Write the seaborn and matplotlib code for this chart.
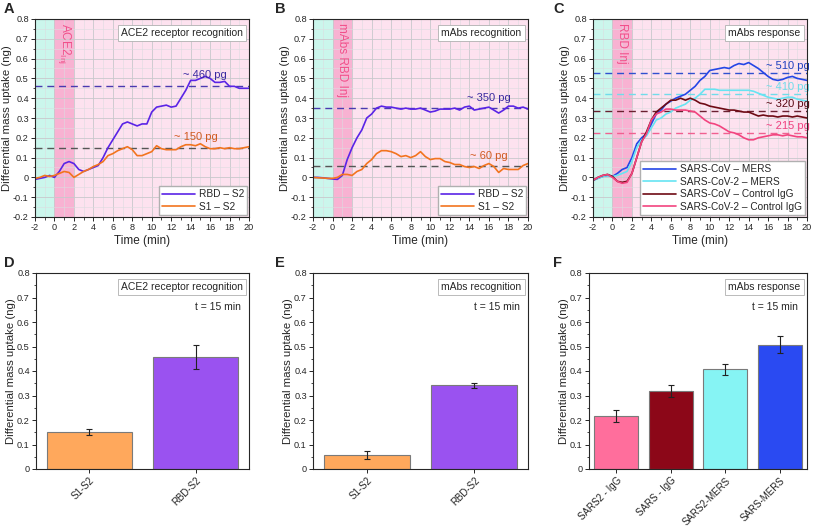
import numpy as np
import pandas as pd
import matplotlib.pyplot as plt
import seaborn as sns
from matplotlib.ticker import MultipleLocator

# time axis (min), sampled every 0.5 min
time = [-2, -1.5, -1, -0.5, 0, 0.5, 1, 1.5, 2, 2.5, 3, 3.5, 4, 4.5, 5, 5.5, 6, 6.5, 7, 7.5,
        8, 8.5, 9, 9.5, 10, 10.5, 11, 11.5, 12, 12.5, 13, 13.5, 14, 14.5, 15, 15.5, 16, 16.5,
        17, 17.5, 18, 18.5, 19, 19.5, 20]

# panel A
a_rbd = [-0.01, -0.005, 0.0, 0.01, 0.0, 0.03, 0.07, 0.08, 0.07, 0.04, 0.03, 0.04, 0.05, 0.06,
         0.1, 0.15, 0.19, 0.23, 0.27, 0.28, 0.27, 0.26, 0.27, 0.27, 0.33, 0.355, 0.36, 0.365,
         0.355, 0.36, 0.4, 0.44, 0.49, 0.49, 0.5, 0.51, 0.5, 0.48, 0.48, 0.485, 0.46, 0.46,
         0.45, 0.45, 0.45]
a_s1 = [-0.005, 0.0, 0.01, 0.005, 0.01, 0.02, 0.03, 0.025, 0.0, 0.015, 0.03, 0.04, 0.055, 0.065,
        0.08, 0.11, 0.12, 0.135, 0.145, 0.155, 0.14, 0.11, 0.11, 0.12, 0.13, 0.16, 0.145, 0.14,
        0.14, 0.14, 0.155, 0.165, 0.165, 0.16, 0.17, 0.155, 0.145, 0.145, 0.15, 0.145, 0.15,
        0.145, 0.145, 0.15, 0.155]

# panel B
b_rbd = [0.0, 0.0, -0.002, -0.005, -0.008, -0.01, 0.01, 0.09, 0.15, 0.2, 0.24, 0.3, 0.32, 0.35,
         0.36, 0.355, 0.355, 0.35, 0.345, 0.35, 0.345, 0.345, 0.35, 0.34, 0.33, 0.335, 0.345,
         0.345, 0.345, 0.35, 0.34, 0.355, 0.36, 0.34, 0.345, 0.35, 0.355, 0.34, 0.325, 0.34,
         0.36, 0.36, 0.35, 0.355, 0.345]
b_s1 = [0.0, -0.002, -0.003, -0.005, -0.005, 0.0, 0.015, 0.015, 0.01, 0.03, 0.04, 0.07, 0.09,
        0.12, 0.135, 0.135, 0.13, 0.12, 0.105, 0.11, 0.1, 0.11, 0.13, 0.105, 0.09, 0.095, 0.095,
        0.08, 0.075, 0.065, 0.065, 0.055, 0.05, 0.055, 0.045, 0.06, 0.07, 0.055, 0.025, 0.045,
        0.04, 0.04, 0.04, 0.06, 0.07]

# panel C
c_cov_mers = [-0.015, -0.005, 0.005, 0.01, 0.005, 0.02, 0.04, 0.05, 0.1, 0.17, 0.2, 0.22, 0.27,
              0.32, 0.34, 0.37, 0.385, 0.4, 0.41, 0.42, 0.44, 0.46, 0.49, 0.51, 0.54, 0.545,
              0.55, 0.555, 0.55, 0.565, 0.575, 0.57, 0.58, 0.565, 0.55, 0.53, 0.51, 0.495, 0.49,
              0.495, 0.505, 0.51, 0.5, 0.495, 0.49]
c_cov2_mers = [-0.015, -0.005, 0.005, 0.01, 0.005, 0.01, 0.02, 0.03, 0.08, 0.15, 0.19, 0.21,
               0.25, 0.29, 0.3, 0.32, 0.33, 0.35, 0.36, 0.37, 0.39, 0.4, 0.42, 0.445, 0.445,
               0.445, 0.44, 0.44, 0.44, 0.44, 0.44, 0.44, 0.44, 0.435, 0.425, 0.415, 0.405, 0.4,
               0.395, 0.4, 0.405, 0.405, 0.395, 0.39, 0.385]
c_cov_igg = [-0.015, 0.0, 0.01, 0.015, 0.005, -0.02, -0.025, -0.02, 0.02, 0.1, 0.18, 0.23, 0.29,
             0.33, 0.35, 0.37, 0.39, 0.39, 0.4, 0.39, 0.4, 0.39, 0.375, 0.37, 0.36, 0.355, 0.35,
             0.345, 0.34, 0.34, 0.335, 0.33, 0.33, 0.32, 0.31, 0.315, 0.31, 0.31, 0.305, 0.31,
             0.31, 0.305, 0.31, 0.305, 0.3]
c_cov2_igg = [-0.015, 0.0, 0.01, 0.015, 0.0, -0.02, -0.03, -0.025, 0.02, 0.1, 0.18, 0.22, 0.29,
              0.32, 0.33, 0.345, 0.345, 0.34, 0.34, 0.34, 0.335, 0.33, 0.31, 0.29, 0.275, 0.27,
              0.26, 0.245, 0.23, 0.225, 0.215, 0.2, 0.19, 0.19, 0.2, 0.205, 0.21, 0.215, 0.215,
              0.21, 0.215, 0.21, 0.205, 0.205, 0.2]

# bars at t = 15 min
d_labels = ['S1-S2', 'RBD-S2']
d_vals = [0.152, 0.457]
d_err = [0.012, 0.05]
e_labels = ['S1-S2', 'RBD-S2']
e_vals = [0.057, 0.342]
e_err = [0.018, 0.011]
f_labels = ['SARS2 - IgG', 'SARS - IgG', 'SARS2-MERS', 'SARS-MERS']
f_vals = [0.215, 0.318, 0.407, 0.508]
f_err = [0.025, 0.025, 0.022, 0.033]

PURPLE = '#5a24e6'
ORANGE = '#f2741f'
BLUE = '#2446e6'
CYAN = '#66e4f2'
DARKRED = '#6e0a14'
PINK = '#f2447f'
INJ = '#f0508a'

sns.set_style('ticks')
plt.rcParams['font.family'] = ['Liberation Sans', 'DejaVu Sans']
plt.rcParams['font.size'] = 7
plt.rcParams['axes.linewidth'] = 0.8
plt.rcParams['axes.unicode_minus'] = False

fig = plt.figure(figsize=(8.13, 5.26), dpi=100)

def pos(l, r, t, b):
    W, H = 813, 526
    return [l / W, 1 - b / H, (r - l) / W, (b - t) / H]

ax_a = fig.add_axes(pos(35, 249, 19, 217))
ax_b = fig.add_axes(pos(313, 528, 19, 217))
ax_c = fig.add_axes(pos(593, 807, 19, 217))
ax_d = fig.add_axes(pos(36, 249, 273, 469))
ax_e = fig.add_axes(pos(313, 528, 273, 469))
ax_f = fig.add_axes(pos(589, 807, 273, 469))


def style_y(ax, low):
    ax.set_ylim(low, 0.8)
    ax.yaxis.set_major_locator(MultipleLocator(0.1))
    ax.yaxis.set_minor_locator(MultipleLocator(0.05))
    ax.set_yticklabels([('0' if abs(v) < 1e-9 else f'{v:g}') for v in ax.get_yticks()])
    ax.set_ylabel('Differential mass uptake (ng)', fontsize=8.2, labelpad=1)
    ax.tick_params(labelsize=6.6, length=3, width=0.7, pad=1.5)
    ax.tick_params(which='minor', length=1.8, width=0.6)


def time_panel(ax, series, colors, inj_text, refs, notes, box):
    ax.axvspan(-2, 0, color='#cbf6ec', zorder=0, lw=0)
    ax.axvspan(0, 2, color='#f8b2d2', zorder=0, lw=0)
    ax.axvspan(2, 20, color='#fde2ef', zorder=0, lw=0)
    ax.set_axisbelow(True)
    df = pd.concat([pd.DataFrame({'time': time, 'mass': v, 'sample': k}) for k, v in series.items()])
    sns.lineplot(data=df, x='time', y='mass', hue='sample', palette=colors, lw=1.2, ax=ax,
                 zorder=3)
    for y, c in refs:
        ax.axhline(y, color=c, lw=1.0, ls=(0, (5, 3.5)), zorder=2)
    for x, y, s, c in notes:
        ax.text(x, y, s, color=c, fontsize=8, ha='center', va='bottom', zorder=4)
    ax.text(*inj_text, color=INJ, fontsize=8.5, rotation=-90, ha='center', va='top', zorder=4)
    ax.text(0.97, 0.955, box, transform=ax.transAxes, ha='right', va='top', fontsize=7.5,
            bbox=dict(boxstyle='square,pad=0.3', fc='white', ec='#b0b0b0', lw=0.6), zorder=5)
    ax.set_xlim(-2, 20)
    ax.xaxis.set_major_locator(MultipleLocator(2))
    ax.xaxis.set_minor_locator(MultipleLocator(1))
    ax.grid(which='major', color='#c8c8cc', lw=0.6)
    ax.grid(which='minor', color='#dcdce0', lw=0.4)
    style_y(ax, -0.2)
    ax.set_xlabel('Time (min)', fontsize=8.5, labelpad=2)
    ax.legend(title=None, loc='lower right', frameon=True, fancybox=False, edgecolor='#b0b0b0',
              framealpha=1, fontsize=7.3, borderpad=0.3, labelspacing=0.25, handlelength=3.2,
              handletextpad=0.4, borderaxespad=0.2)
    for sp in ax.spines.values():
        sp.set_zorder(6)


time_panel(ax_a, {'RBD – S2': a_rbd, 'S1 – S2': a_s1}, [PURPLE, ORANGE],
           (1.0, 0.78, 'ACE2$_{\\mathregular{Inj}}$'),
           [(0.46, '#4a3ab0'), (0.15, '#555555')],
           [(15.5, 0.49, '~ 460 pg', '#3a2aa0'), (14.5, 0.18, '~ 150 pg', '#d05a20')],
           'ACE2 receptor recognition')
time_panel(ax_b, {'RBD – S2': b_rbd, 'S1 – S2': b_s1}, [PURPLE, ORANGE],
           (1.0, 0.78, 'mAbs RBD Inj'),
           [(0.35, '#4a3ab0'), (0.06, '#555555')],
           [(16.0, 0.375, '~ 350 pg', '#3a2aa0'), (16.0, 0.085, '~ 60 pg', '#d05a20')],
           'mAbs recognition')
time_panel(ax_c, {'SARS-CoV – MERS': c_cov_mers, 'SARS-CoV-2 – MERS': c_cov2_mers,
                  'SARS-CoV – Control IgG': c_cov_igg, 'SARS-CoV-2 – Control IgG': c_cov2_igg},
           [BLUE, CYAN, DARKRED, PINK],
           (1.0, 0.78, 'RBD Inj'),
           [(0.525, '#3050d0'), (0.42, '#70dcea'), (0.335, '#6a2030'), (0.225, '#f06090')],
           [(18.0, 0.535, '~ 510 pg', '#2040c0'), (18.0, 0.43, '~ 410 pg', '#70dcea'),
            (18.0, 0.345, '~ 320 pg', '#5a0a14'), (18.0, 0.235, '~ 215 pg', '#f04080')],
           'mAbs response')


def bar_panel(ax, labels, vals, errs, colors, box):
    sns.barplot(x=labels, y=vals, hue=labels, palette=colors, width=0.8, saturation=1,
                edgecolor='#7a7a7a', lw=0.8, legend=False, ax=ax, zorder=2)
    ax.errorbar(range(len(labels)), vals, yerr=errs, fmt='none', ecolor='#222222',
                elinewidth=0.8, capsize=2, capthick=0.8, zorder=3)
    ax.set_xlim(-0.5, len(labels) - 0.5)
    style_y(ax, 0)
    ax.set_xticks(range(len(labels)))
    ax.set_xticklabels(labels, rotation=45, ha='right', rotation_mode='anchor', fontsize=7)
    ax.text(0.97, 0.955, box, transform=ax.transAxes, ha='right', va='top', fontsize=7.5,
            bbox=dict(boxstyle='square,pad=0.3', fc='white', ec='#b0b0b0', lw=0.6))
    ax.text(0.96, 0.85, 't = 15 min', transform=ax.transAxes, ha='right', va='top', fontsize=7.5)


bar_panel(ax_d, d_labels, d_vals, d_err, ['#ffa85c', '#9a52f0'], 'ACE2 receptor recognition')
bar_panel(ax_e, e_labels, e_vals, e_err, ['#ffa85c', '#9a52f0'], 'mAbs recognition')
bar_panel(ax_f, f_labels, f_vals, f_err, ['#ff6e9c', '#8c0718', '#86f4f4', '#2a4af2'],
          'mAbs response')

for lab, x, y in [('A', 4, 2), ('B', 275, 2), ('C', 553, 2),
                  ('D', 4, 256), ('E', 275, 256), ('F', 553, 256)]:
    fig.text(x / 813, 1 - y / 526, lab, fontsize=10.5, fontweight='bold', va='top', ha='left')

fig.savefig('out.png', dpi=100)
